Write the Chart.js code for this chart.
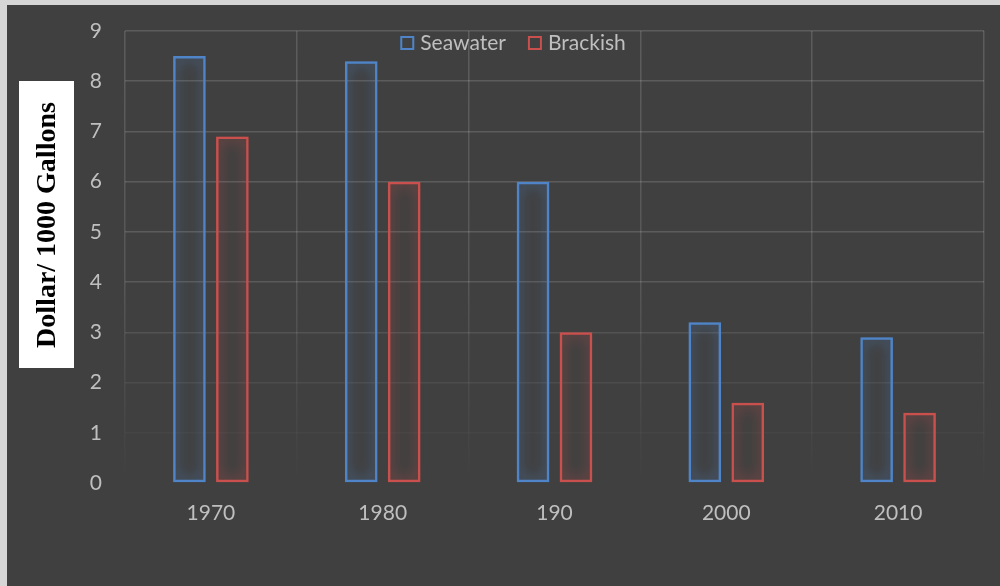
<!DOCTYPE html>
<html>
<head>
<meta charset="utf-8">
<script src="https://cdn.jsdelivr.net/npm/chart.js@4/dist/chart.umd.min.js"></script>
<style>
  html, body { margin: 0; padding: 0; background: #404040; }
  #wrap { width: 1000px; height: 586px; position: relative; }
</style>
</head>
<body>
<div id="wrap"><canvas id="c" width="1000" height="586"></canvas></div>
<script>
// Desalination cost, dollars per 1000 gallons
const years = ['1970', '1980', '190', '2000', '2010'];
const seawater = [8.5, 8.4, 6.0, 3.2, 2.9];
const brackish = [6.9, 6.0, 3.0, 1.6, 1.4];
const yTicks = [0, 1, 2, 3, 4, 5, 6, 7, 8, 9];
const yTitle = 'Dollar/ 1000 Gallons';

const BG = '#404040';
const TEXT = '#bfbfbf';
const BLUE = '#4f85c8';
const RED = '#c9504d';
const FONT = 'Lato, "Open Sans", sans-serif';

// Frame, background and the boxed y-axis title
const framePlugin = {
  id: 'frame',
  beforeDraw(chart) {
    const ctx = chart.ctx;
    ctx.save();
    ctx.fillStyle = BG;
    ctx.fillRect(0, 0, chart.width, chart.height);
    ctx.fillStyle = '#d6d6d6';
    ctx.fillRect(0, 0, chart.width, 5);
    ctx.fillRect(0, 0, 7, chart.height);
    ctx.restore();
  },
  afterDraw(chart) {
    const ctx = chart.ctx;
    ctx.save();
    ctx.fillStyle = '#ffffff';
    ctx.fillRect(19, 81, 55, 287);
    ctx.translate(47, 225);
    ctx.rotate(-Math.PI / 2);
    ctx.fillStyle = '#000000';
    ctx.font = 'bold 28px "Liberation Serif", "Times New Roman", serif';
    ctx.textAlign = 'center';
    ctx.textBaseline = 'middle';
    ctx.fillText(yTitle, 0, 1);
    ctx.restore();
  }
};

// Soft glow around each outlined bar
const glowPlugin = {
  id: 'glow',
  beforeDatasetDraw(chart, args) {
    const ds = chart.data.datasets[args.index];
    chart.ctx.save();
    chart.ctx.shadowColor = ds.borderColor;
    chart.ctx.shadowBlur = 14;
  },
  afterDatasetDraw(chart) {
    chart.ctx.restore();
  }
};

// Legend row with outlined square markers
const legendPlugin = {
  id: 'topLegend',
  afterDraw(chart) {
    const ctx = chart.ctx;
    ctx.save();
    ctx.font = '21px ' + FONT;
    ctx.textBaseline = 'middle';
    const box = 14, gap = 6, spacing = 22, cy = 43;
    const items = chart.data.datasets.map(d => ({ label: d.label, color: d.borderColor, w: ctx.measureText(d.label).width }));
    let total = 0;
    items.forEach((it, i) => { total += box + gap + it.w + (i ? spacing : 0); });
    let x = 513 - total / 2;
    items.forEach(it => {
      ctx.strokeStyle = it.color;
      ctx.lineWidth = 2;
      ctx.strokeRect(x + 1, cy - box / 2 + 1, box - 2, box - 2);
      ctx.fillStyle = TEXT;
      ctx.fillText(it.label, x + box + gap, cy);
      x += box + gap + it.w + spacing;
    });
    ctx.restore();
  }
};

const GRID_ALPHA = 0.15;

new Chart(document.getElementById('c'), {
  type: 'bar',
  data: {
    labels: years,
    datasets: [
      { label: 'Seawater', data: seawater, borderColor: BLUE, backgroundColor: 'rgba(0,0,0,0)', borderWidth: 2.5, borderSkipped: false },
      { label: 'Brackish', data: brackish, borderColor: RED, backgroundColor: 'rgba(0,0,0,0)', borderWidth: 2.5, borderSkipped: false }
    ]
  },
  options: {
    responsive: false,
    animation: false,
    events: [],
    layout: { padding: { top: 31, right: 16, left: 0, bottom: 0 } },
    datasets: { bar: { categoryPercentage: 0.5, barPercentage: 0.76 } },
    plugins: { legend: { display: false }, tooltip: { enabled: false } },
    scales: {
      x: {
        grid: {
          offset: true,
          drawTicks: false,
          lineWidth: 1.5,
          color(ctx) {
            const area = ctx.chart.chartArea;
            if (!area) return 'rgba(255,255,255,' + GRID_ALPHA + ')';
            const g = ctx.chart.ctx.createLinearGradient(0, area.top, 0, area.bottom);
            g.addColorStop(0, 'rgba(255,255,255,' + GRID_ALPHA + ')');
            g.addColorStop(0.55, 'rgba(255,255,255,' + (GRID_ALPHA * 0.8) + ')');
            g.addColorStop(1, 'rgba(255,255,255,0)');
            return g;
          }
        },
        border: { display: false },
        ticks: { color: TEXT, font: { family: FONT, size: 21 }, padding: 18 },
        afterFit(scale) { scale.height = 103; }
      },
      y: {
        min: yTicks[0],
        max: yTicks[yTicks.length - 1],
        grid: {
          drawTicks: false,
          lineWidth: 1.5,
          color(ctx) {
            const v = ctx.tick ? ctx.tick.value : 9;
            const a = GRID_ALPHA * Math.max(0, Math.min(1, (v - 0.3) / 4));
            return 'rgba(255,255,255,' + a.toFixed(3) + ')';
          }
        },
        border: { display: false },
        ticks: {
          stepSize: yTicks[1] - yTicks[0],
          color: TEXT,
          font: { family: FONT, size: 21 },
          padding: 23
        },
        afterFit(scale) {
          scale.width = 125;
          // the label gap is horizontal only; keep the vertical overhang to half a label
          scale.paddingTop = 13;
          scale.paddingBottom = 13;
        }
      }
    }
  },
  plugins: [framePlugin, glowPlugin, legendPlugin]
});
</script>
</body>
</html>
